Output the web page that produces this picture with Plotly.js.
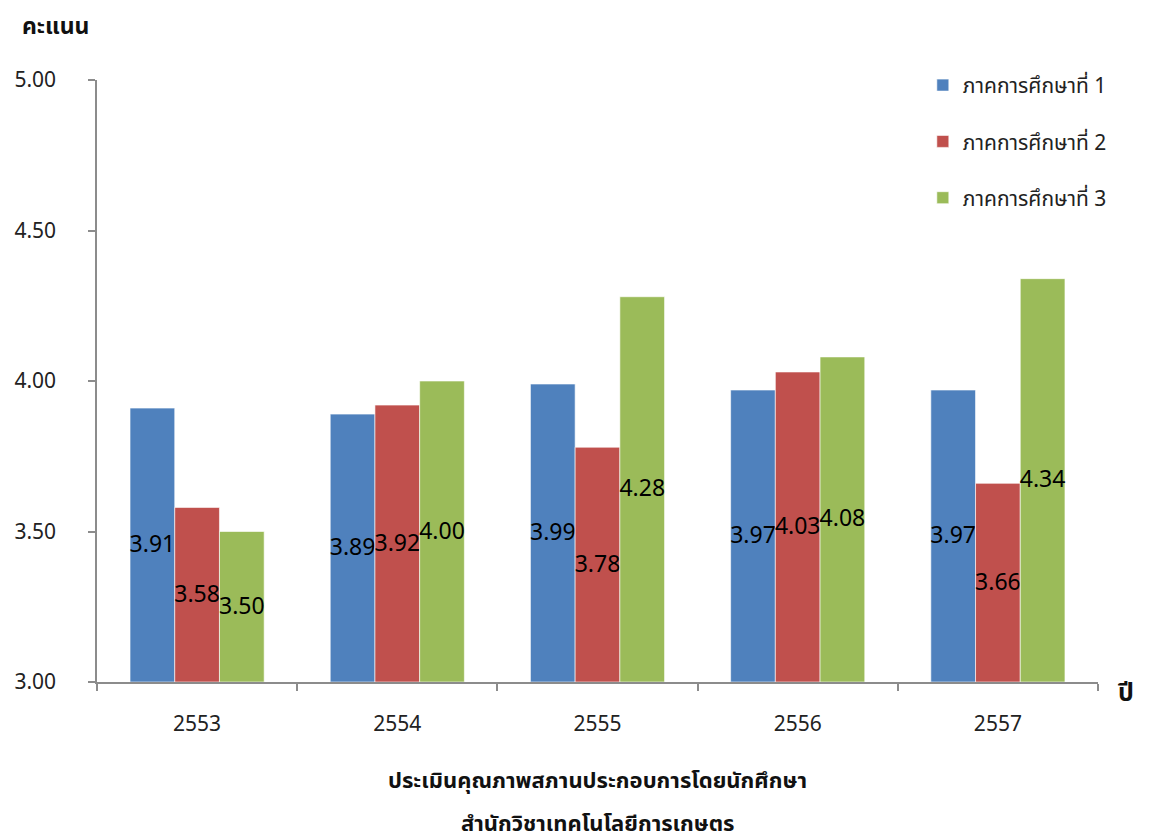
<!DOCTYPE html>
<html>
<head>
<meta charset="utf-8">
<script src="https://cdn.plot.ly/plotly-3.0.1.min.js"></script>
<style>
  html, body { margin: 0; padding: 0; background: #fff; }
  #chart { width: 1150px; height: 840px; }
</style>
</head>
<body>
<div id="chart"></div>
<script>
const years = ['2553', '2554', '2555', '2556', '2557'];
const term1 = [3.91, 3.89, 3.99, 3.97, 3.97];
const term2 = [3.58, 3.92, 3.78, 4.03, 3.66];
const term3 = [3.50, 4.00, 4.28, 4.08, 4.34];
const seriesNames = ['ภาคการศึกษาที่ 1', 'ภาคการศึกษาที่ 2', 'ภาคการศึกษาที่ 3'];
const yTicks = [3.0, 3.5, 4.0, 4.5, 5.0];
const axisMin = 3;
const axisMax = 5;

const FONT = '"Noto Sans Thai", "Noto Sans", "DejaVu Sans", sans-serif';
const colors = ['#4F81BD', '#C0504D', '#9BBB59'];

// bars start at the axis minimum (3.00): base 3, length value - 3
const data = [term1, term2, term3].map((vals, i) => ({
  type: 'bar',
  name: seriesNames[i],
  legendgroup: 'g' + i,
  x: years,
  y: vals.map(v => v - axisMin),
  base: axisMin,
  text: vals.map(v => v.toFixed(2)),
  textposition: 'inside',
  insidetextanchor: 'middle',
  constraintext: 'none',
  textangle: 0,
  textfont: {family: FONT, size: 23, color: '#000'},
  marker: {color: colors[i], line: {color: 'rgba(255,255,255,0.6)', width: 1}},
  hoverinfo: 'skip'
}));

const layout = {
  width: 1150,
  height: 840,
  margin: {l: 97, r: 52, t: 80, b: 158},
  paper_bgcolor: '#fff',
  plot_bgcolor: '#fff',
  font: {family: FONT, size: 20, color: '#222'},
  barmode: 'group',
  bargap: 0.33,
  bargroupgap: 0,
  showlegend: true,
  legend: {
    x: 0.825, y: 1.025, xanchor: 'left', yanchor: 'top',
    font: {family: FONT, size: 21, color: '#222'},
    traceorder: 'grouped',
    tracegroupgap: 26,
    bgcolor: 'rgba(0,0,0,0)'
  },
  xaxis: {
    type: 'category',
    showline: true, linecolor: '#8c8c8c', linewidth: 1.5,
    ticks: 'outside', ticklen: 7, tickcolor: '#8c8c8c', tickwidth: 1.5,
    tickson: 'boundaries',
    ticklabelstandoff: 22,
    tickfont: {size: 21, color: '#222'},
    showgrid: false
  },
  yaxis: {
    range: [axisMin, axisMax],
    tickvals: yTicks,
    ticktext: yTicks.map(v => v.toFixed(2)),
    showline: true, linecolor: '#8c8c8c', linewidth: 1.5,
    ticks: 'outside', ticklen: 7, tickcolor: '#8c8c8c', tickwidth: 1.5,
    ticklabelstandoff: 28,
    showgrid: false, zeroline: false,
    tickfont: {size: 21, color: '#222'}
  },
  annotations: [
    {text: '<b>คะแนน</b>', xref: 'paper', yref: 'paper', x: -0.077, y: 1.088,
     xanchor: 'left', yanchor: 'middle', showarrow: false, font: {size: 23, color: '#111'}},
    {text: '<b>ปี</b>', xref: 'paper', yref: 'paper', x: 1.018, y: -0.018,
     xanchor: 'left', yanchor: 'middle', showarrow: false, font: {size: 25, color: '#111'}},
    {text: '<b>ประเมินคุณภาพสภานประกอบการโดยนักศึกษา</b>', xref: 'paper', yref: 'paper',
     x: 0.5, y: -0.165, xanchor: 'center', yanchor: 'middle', showarrow: false,
     font: {size: 22, color: '#111'}},
    {text: '<b>สำนักวิชาเทคโนโลยีการเกษตร</b>', xref: 'paper', yref: 'paper',
     x: 0.5, y: -0.237, xanchor: 'center', yanchor: 'middle', showarrow: false,
     font: {size: 22, color: '#111'}}
  ]
};

Plotly.newPlot('chart', data, layout, {displayModeBar: false});
</script>
</body>
</html>
